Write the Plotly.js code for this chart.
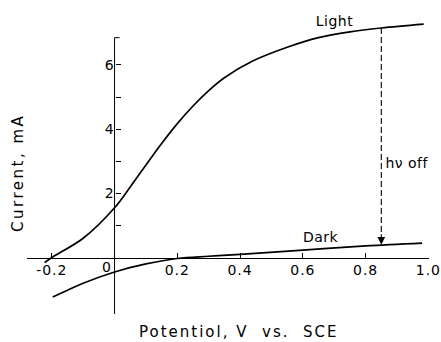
<!DOCTYPE html>
<html>
<head>
<meta charset="utf-8">
<script src="https://cdn.plot.ly/plotly-3.0.1.min.js"></script>
<style>
  html, body { margin: 0; padding: 0; background: #fff; }
  #chart { width: 441px; height: 342px; }
  g.annotation[data-index="0"] text { letter-spacing: 2px; }
  g.annotation[data-index="1"] text { letter-spacing: 2.5px; }
  .xtick text, .ytick text { letter-spacing: 1px; }
  g.annotation[data-index="3"] text, g.annotation[data-index="4"] text, g.annotation[data-index="5"] text { letter-spacing: 0.5px; }
</style>
</head>
<body>
<div id="chart"></div>
<script>
// Light (illuminated) current vs potential
const lightX = [-0.223, -0.2, -0.1, 0.0, 0.05, 0.1, 0.15, 0.2, 0.25, 0.3, 0.35, 0.44, 0.55, 0.65, 0.75, 0.85, 0.985];
const lightY = [-0.16, 0.0, 0.6, 1.55, 2.2, 2.88, 3.55, 4.17, 4.72, 5.2, 5.6, 6.12, 6.55, 6.85, 7.03, 7.15, 7.27];
// Dark current vs potential
const darkX = [-0.197, -0.15, -0.1, 0.0, 0.1, 0.2, 0.3, 0.4, 0.6, 0.8, 0.98];
const darkY = [-1.23, -1.02, -0.8, -0.45, -0.2, -0.03, 0.04, 0.1, 0.23, 0.36, 0.45];
// "hν off" marker
const offX = [0.85, 0.85];
const offY = [7.15, 0.7];
// Ticks
const xTickVals = [-0.2, 0.2, 0.4, 0.6, 0.8, 1.0];
const xTickText = ['-0.2', '0.2', '0.4', '0.6', '0.8', '1.0'];
const yTickVals = [1, 2, 3, 4, 5, 6];
const yTickText = ['', '2', '', '4', '', '6'];

const FONT = 'DejaVu Sans, Liberation Sans, sans-serif';
const xRange = [-0.279, 1.002];
const yRange = [-1.76, 7.40];
const yAxisTop = 6.85;

const traces = [
  { x: lightX, y: lightY, mode: 'lines', line: { color: '#000', width: 1.7, shape: 'spline', smoothing: 1 }, hoverinfo: 'skip' },
  { x: darkX, y: darkY, mode: 'lines', line: { color: '#000', width: 1.7, shape: 'spline', smoothing: 1 }, hoverinfo: 'skip' },
  { x: offX, y: offY, mode: 'lines', line: { color: '#000', width: 1.1, dash: '6px,3px' }, hoverinfo: 'skip' }
];

const layout = {
  width: 441, height: 342,
  margin: { l: 27, r: 12, t: 20, b: 28, pad: 0 },
  paper_bgcolor: '#fff', plot_bgcolor: '#fff',
  showlegend: false,
  font: { family: FONT, size: 14, color: '#000' },
  xaxis: {
    range: xRange, anchor: 'free',
    position: (0 - yRange[0]) / (yRange[1] - yRange[0]),
    showline: true, linecolor: '#000', linewidth: 1,
    ticks: 'inside', ticklen: 5, tickcolor: '#000', tickwidth: 1,
    tickvals: xTickVals, ticktext: xTickText,
    ticklabeloverflow: 'allow',
    tickfont: { family: FONT, size: 14, color: '#000' },
    showgrid: false, zeroline: false
  },
  yaxis: {
    range: yRange, anchor: 'free',
    position: (0 - xRange[0]) / (xRange[1] - xRange[0]),
    showline: false,
    ticks: 'inside', ticklen: 5, tickcolor: '#000', tickwidth: 1,
    tickvals: yTickVals, ticktext: yTickText,
    tickfont: { family: FONT, size: 14, color: '#000' },
    showgrid: false, zeroline: false
  },
  shapes: [
    { type: 'line', xref: 'x', yref: 'y', x0: 0, x1: 0, y0: yRange[0], y1: yAxisTop, line: { color: '#000', width: 1 } },
    { type: 'line', xref: 'x', yref: 'y', x0: 0, x1: 0.016, y0: yAxisTop, y1: yAxisTop, line: { color: '#000', width: 1 } }
  ],
  annotations: [
    { text: 'Potentiol, V  vs.  SCE', xref: 'x', yref: 'paper', x: 0.395, y: -0.061, showarrow: false, xanchor: 'center', yanchor: 'middle', font: { family: FONT, size: 15 } },
    { text: 'Current, mA', xref: 'paper', yref: 'y', x: -0.0224, y: 2.66, showarrow: false, textangle: -90, xanchor: 'center', yanchor: 'middle', font: { family: FONT, size: 15 } },
    { text: '0', xref: 'x', yref: 'y', x: 0, y: 0, xshift: -8, yshift: -9, showarrow: false, font: { family: FONT, size: 14 } },
    { text: 'Light', xref: 'x', yref: 'y', x: 0.70, y: 7.36, showarrow: false, font: { family: FONT, size: 14 } },
    { text: 'Dark', xref: 'x', yref: 'y', x: 0.659, y: 0.64, showarrow: false, font: { family: FONT, size: 14 } },
    { text: 'hν off', xref: 'x', yref: 'y', x: 0.933, y: 2.95, showarrow: false, font: { family: FONT, size: 14 } },
    { text: '', xref: 'x', yref: 'y', x: 0.85, y: 0.4, ax: 0, ay: -12, showarrow: true, arrowhead: 2, arrowsize: 1.4, arrowwidth: 1.1, arrowcolor: '#000', standoff: 0 }
  ]
};

Plotly.newPlot('chart', traces, layout, { staticPlot: true, displayModeBar: false });
</script>
</body>
</html>
